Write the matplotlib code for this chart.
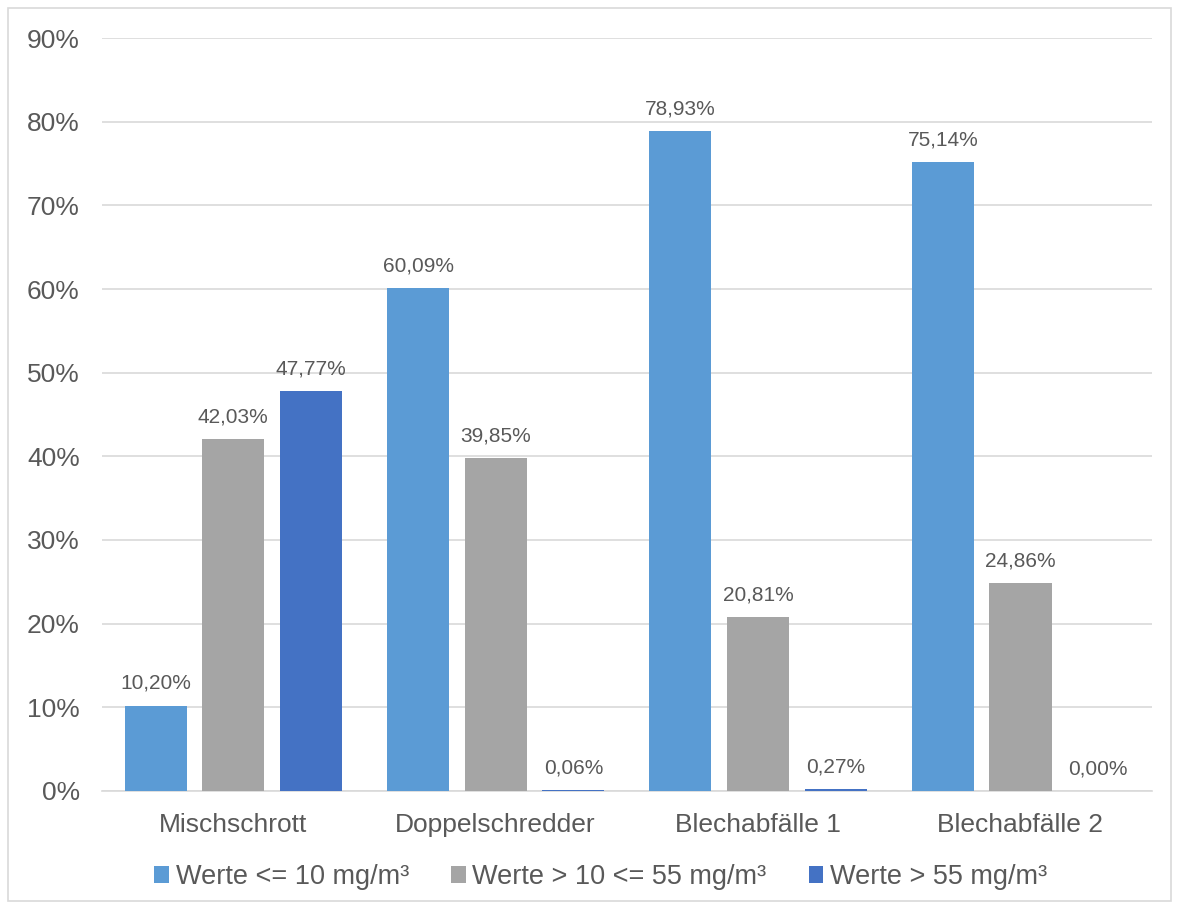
import numpy as np
import matplotlib
matplotlib.use("Agg")
import matplotlib.pyplot as plt
from matplotlib.patches import Rectangle

plt.rcParams['font.family'] = ['Liberation Sans', 'DejaVu Sans']

categories = ['Mischschrott', 'Doppelschredder', 'Blechabfälle 1', 'Blechabfälle 2']
series_names = ['Werte <= 10 mg/m³', 'Werte > 10 <= 55 mg/m³', 'Werte > 55 mg/m³']
low = [10.20, 60.09, 78.93, 75.14]
mid = [42.03, 39.85, 20.81, 24.86]
high = [47.77, 0.06, 0.27, 0.00]
colors = ['#5B9BD5', '#A5A5A5', '#4472C4']

text_col = '#595959'
fig = plt.figure(figsize=(11.8, 9.09), dpi=100)
ax = fig.add_axes([0.0865, 0.130, 0.8895, 0.828])

x = np.arange(len(categories))
w = 0.237
step = 0.296
for i, (vals, c) in enumerate(zip([low, mid, high], colors)):
    pos = x + (i - 1) * step
    ax.bar(pos, vals, width=w, color=c, label=series_names[i], zorder=3)
    for p, v in zip(pos, vals):
        ax.text(p, v + 1.5, f'{v:.2f}%'.replace('.', ','), ha='center', va='bottom',
                fontsize=15, color=text_col)

ax.set_xlim(-0.5, 3.5)
ax.set_ylim(0, 90)
ax.set_yticks(np.arange(0, 91, 10))
ax.set_yticklabels([f'{t}%' for t in range(0, 91, 10)], fontsize=19, color=text_col)
ax.set_xticks(x)
ax.set_xticklabels(categories, fontsize=19, color=text_col)
ax.grid(axis='y', color='#D9D9D9', linewidth=1.2, zorder=0)
for s in ['top', 'right', 'left']:
    ax.spines[s].set_visible(False)
ax.spines['bottom'].set_color('#D9D9D9')
ax.spines['bottom'].set_linewidth(1.2)
ax.tick_params(axis='both', length=0)
ax.tick_params(axis='y', pad=16)
ax.tick_params(axis='x', pad=16)

leg = fig.legend(loc='center', bbox_to_anchor=(0.509, 0.035), ncol=3, frameon=False,
                 fontsize=19.5, handlelength=0.55, handleheight=0.55, handletextpad=0.25,
                 columnspacing=1.55, labelcolor=text_col)

fig.patches.append(Rectangle((0.007, 0.009), 0.985, 0.982, transform=fig.transFigure,
                             fill=False, edgecolor='#D9D9D9', linewidth=1.2))

fig.savefig('out.png', dpi=100)
